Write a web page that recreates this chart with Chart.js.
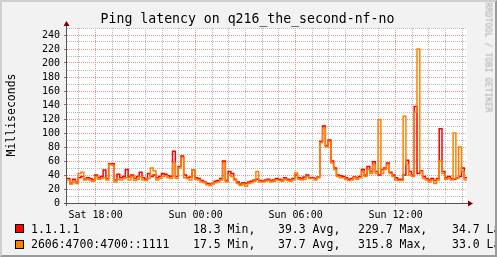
<!DOCTYPE html>
<html><head><meta charset="utf-8">
<script src="https://cdn.jsdelivr.net/npm/chart.js@4"></script>
<style>
html,body{margin:0;padding:0;background:#f2f2f2;}
#wrap{position:relative;width:497px;height:257px;overflow:hidden;background:#f2f2f2;}
#frame{position:absolute;left:0;top:0;width:497px;height:257px;box-sizing:border-box;border-top:2px solid #cfcfcf;border-left:2px solid #cfcfcf;border-right:2px solid #9a9a9a;border-bottom:2px solid #9a9a9a;pointer-events:none;z-index:5;}
canvas{position:absolute;left:0;top:0;}
.t{position:absolute;font-family:"DejaVu Sans Mono",monospace;white-space:pre;color:#000;}
.box{position:absolute;width:7px;height:7px;border:1px solid #000;}
</style></head>
<body>
<div id="wrap">
  <canvas id="c" width="497" height="257"></canvas>
  <div class="t" id="title" style="left:0;width:495px;top:12px;font-size:13.2px;line-height:14px;text-align:center;"></div>
  <div class="t" id="ytitle" style="left:-39px;top:108px;width:100px;font-size:11.5px;line-height:14px;text-align:center;transform:rotate(-90deg);"></div>
  <div class="t" id="wm" style="left:433px;top:53px;width:110px;font-size:8.3px;line-height:9px;text-align:center;color:#ababab;transform:rotate(90deg);"></div>
  <div id="legend"></div>
  <div id="frame"></div>
</div>
<script>
// ---- data ----
const titleText = 'Ping latency on q216_the_second-nf-no';
const yAxisTitle = 'Milliseconds';
const watermark = 'RRDTOOL / TOBI OETIKER';
const seriesNames = ['1.1.1.1', '2606:4700:4700::1111'];
const statMin  = ['18.3', '17.5'];
const statAvg  = ['39.3', '37.7'];
const statMax  = ['229.7', '315.8'];
const statLast = ['34.7', '33.0'];
const xTickHours  = [1.7167, 7.7167, 13.7167, 19.7167];
const xTickLabels = ['Sat 18:00', 'Sun 00:00', 'Sun 06:00', 'Sun 12:00'];
const stepHours = 1 / 6; // 10-minute samples over 24 hours

const v4Values = [
 35,28,34,30,36,38,34,36,35,33, 40,36,38,47,35,56,56,33,41,36,
 38,48,37,40,35,38,44,36,34,42, 38,40,36,38,42,41,39,38,74,38,
 52,67,40,36,37,47,36,35,32,30, 28,27,28,31,32,35,60,32,45,42,
 34,30,27,29,28,30,31,33,34,32, 31,33,34,32,33,35,34,33,36,34,
 33,35,40,36,35,37,40,36,36,35, 37,88,110,82,90,60,50,40,39,38,
 36,34,35,37,36,38,48,40,52,45, 59,45,40,48,50,57,44,40,36,34,
 34,40,61,45,40,138,42,46,38,35, 33,35,32,35,106,45,36,38,35,34,
 36,38,50,36
];
const v6Values = [
 33,27,31,28,42,44,33,34,32,31, 38,34,35,36,33,55,54,30,34,33,
 35,36,33,38,32,34,38,33,32,35, 50,46,33,35,38,39,36,35,57,35,
 50,65,36,35,33,47,34,33,30,29, 26,25,27,29,30,33,57,30,40,38,
 33,28,25,27,24,28,29,31,45,30, 30,31,32,30,31,33,32,31,34,32,
 31,33,43,34,33,34,38,35,35,33, 36,86,107,80,88,57,48,38,36,36,
 34,32,33,36,34,36,45,38,48,42, 55,42,119,42,48,55,42,38,33,32,
 32,124,55,40,38,130,220,45,35,33, 30,33,28,33,60,42,34,35,33,100,
 35,80,45,33
];

// ---- text ----
document.getElementById('title').textContent = titleText;
document.getElementById('ytitle').textContent = yAxisTitle;
document.getElementById('wm').textContent = watermark;
const boxColors = ['#ff0000', '#ff8000'];
const legend = document.getElementById('legend');
const rowTops = [222.5, 237.7];
const colLeft = [31, 193, 278, 358, 452];
seriesNames.forEach((name, i) => {
  const b = document.createElement('div');
  b.className = 'box';
  b.style.left = '15px'; b.style.top = (rowTops[i] + 1.8) + 'px';
  b.style.background = boxColors[i];
  legend.appendChild(b);
  const cells = [name, statMin[i] + ' Min,', statAvg[i] + ' Avg,', statMax[i] + ' Max,', statLast[i] + ' Last'];
  cells.forEach((txt, j) => {
    const d = document.createElement('div');
    d.className = 't';
    d.style.left = colLeft[j] + 'px';
    d.style.top = rowTops[i] + 'px';
    d.style.fontSize = '11.5px';
    d.style.lineHeight = '12px';
    d.textContent = txt;
    legend.appendChild(d);
  });
});

// ---- chart ----
function toPoints(vals) {
  const pts = vals.map((v, i) => ({ x: i * stepHours, y: v }));
  pts.push({ x: vals.length * stepHours, y: vals[vals.length - 1] });
  return pts;
}
const MAJOR = '#e39494';
const MINOR = '#b8b8b8';
const isMajorX = v => xTickHours.some(h => Math.abs(h - v) < 1e-6);

const decor = {
  id: 'decor',
  beforeDraw(chart) {
    const { ctx, chartArea: a } = chart;
    ctx.save();
    ctx.fillStyle = '#ffffff';
    ctx.fillRect(a.left, a.top, a.right - a.left, a.bottom - a.top);
    ctx.restore();
  },
  afterDatasetsDraw(chart) {
    const { ctx, chartArea: a } = chart;
    ctx.save();
    ctx.strokeStyle = '#555555';
    ctx.lineWidth = 1;
    ctx.beginPath();
    ctx.moveTo(a.left - 3, a.bottom + 0.5);
    ctx.lineTo(a.right + 3, a.bottom + 0.5);
    ctx.moveTo(a.left - 0.5, a.bottom + 3);
    ctx.lineTo(a.left - 0.5, a.top - 4);
    ctx.stroke();
    ctx.fillStyle = '#7f0000';
    ctx.beginPath();
    ctx.moveTo(a.right + 1, a.bottom - 2.5);
    ctx.lineTo(a.right + 6, a.bottom + 0.5);
    ctx.lineTo(a.right + 1, a.bottom + 3.5);
    ctx.closePath();
    ctx.fill();
    ctx.beginPath();
    ctx.moveTo(a.left - 3.5, a.top - 2);
    ctx.lineTo(a.left - 0.5, a.top - 7);
    ctx.lineTo(a.left + 2.5, a.top - 2);
    ctx.closePath();
    ctx.fill();
    ctx.restore();
  }
};

new Chart(document.getElementById('c'), {
  type: 'line',
  data: {
    datasets: [
      { label: seriesNames[0], data: toPoints(v4Values), borderColor: '#ff0000', borderWidth: 1.5, stepped: true, pointRadius: 0, fill: false, order: 2 },
      { label: seriesNames[1], data: toPoints(v6Values), borderColor: '#ff8000', borderWidth: 1.5, stepped: true, pointRadius: 0, fill: false, order: 1 }
    ]
  },
  options: {
    responsive: false,
    animation: false,
    devicePixelRatio: 1,
    layout: { padding: { left: 0, right: 30, top: 28, bottom: 0 } },
    plugins: { legend: { display: false }, tooltip: { enabled: false }, title: { display: false } },
    scales: {
      x: {
        type: 'linear', min: 0, max: 24,
        afterBuildTicks(scale) {
          const first = xTickHours[0] - Math.floor(xTickHours[0]);
          const t = [];
          for (let h = first; h < 24; h += 1) t.push({ value: h });
          scale.ticks = t;
        },
        afterFit(scale) { scale.height = 54; },
        ticks: {
          autoSkip: false, maxRotation: 0, minRotation: 0, padding: 3,
          color: '#000', font: { family: 'DejaVu Sans Mono', size: 10 },
          callback(value) {
            const k = xTickHours.findIndex(h => Math.abs(h - value) < 1e-6);
            return k >= 0 ? xTickLabels[k] : '';
          }
        },
        grid: {
          color: c => isMajorX(c.tick.value) ? MAJOR : MINOR,
          tickColor: c => isMajorX(c.tick.value) ? MAJOR : 'rgba(0,0,0,0)',
          tickLength: 3, lineWidth: 1
        },
        border: { display: false, dash: [1, 1] }
      },
      y: {
        type: 'linear', min: 0, max: 250,
        afterFit(scale) { scale.width = 67; },
        ticks: {
          stepSize: 10, padding: 4, color: '#000', autoSkip: false,
          font: { family: 'DejaVu Sans Mono', size: 10 },
          callback: v => (v % 20 === 0 ? String(v) : '')
        },
        grid: {
          color: c => (c.tick.value % 20 === 0 ? MAJOR : MINOR),
          tickColor: c => (c.tick.value % 20 === 0 ? '#777' : 'rgba(0,0,0,0)'),
          tickLength: 3, lineWidth: 1
        },
        border: { display: false, dash: [1, 1] }
      }
    }
  },
  plugins: [decor]
});
</script>
</body></html>
